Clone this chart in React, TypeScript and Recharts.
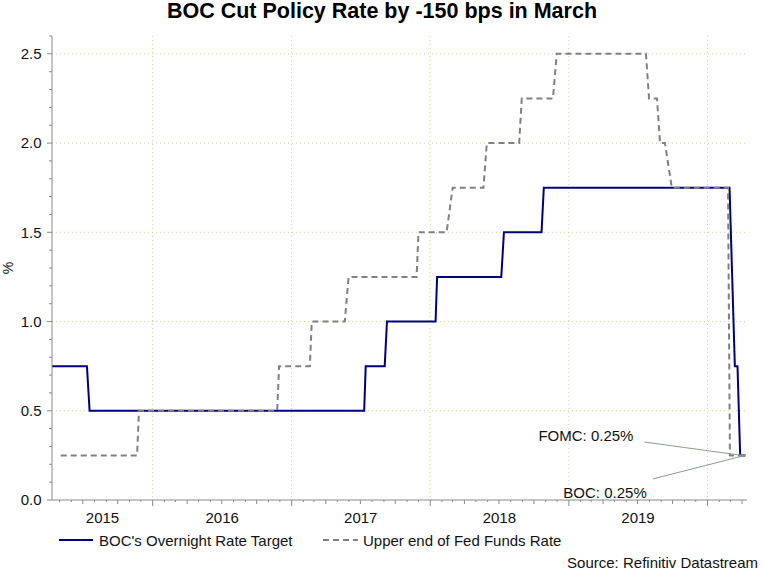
import React from 'react';
import {
  LineChart,
  Line,
  XAxis,
  YAxis,
  CartesianGrid,
  ReferenceLine,
  ReferenceDot,
  Legend,
} from 'recharts';

// ---------- data ----------
const bocDates = [
  '2015-04-11', '2015-07-12', '2015-07-19', '2017-07-11', '2017-07-15', '2017-09-03', '2017-09-09',
  '2018-01-15', '2018-01-19', '2018-07-07', '2018-07-14', '2018-10-21', '2018-10-27', '2020-02-28',
  '2020-03-06', '2020-03-13', '2020-03-20', '2020-03-27', '2020-04-10',
];
const bocValues = [
  0.75, 0.75, 0.5, 0.5, 0.75, 0.75, 1.0, 1.0, 1.25, 1.25, 1.5, 1.5, 1.75, 1.75, 1.25, 0.75, 0.75, 0.25, 0.25,
];

const fedDates = [
  '2015-05-04', '2015-11-21', '2015-11-26', '2016-11-24', '2016-11-29', '2017-02-18', '2017-02-23',
  '2017-05-21', '2017-05-31', '2017-11-26', '2017-12-01', '2018-02-13', '2018-03-01', '2018-05-21',
  '2018-05-30', '2018-08-23', '2018-08-30', '2018-11-20', '2018-11-30', '2019-07-23', '2019-07-31',
  '2019-08-21', '2019-08-29', '2019-09-11', '2019-09-29', '2020-02-24', '2020-02-29', '2020-04-10',
];
const fedValues = [
  0.25, 0.25, 0.5, 0.5, 0.75, 0.75, 1.0, 1.0, 1.25, 1.25, 1.5, 1.5, 1.75, 1.75, 2.0, 2.0, 2.25, 2.25,
  2.5, 2.5, 2.25, 2.25, 2.0, 2.0, 1.75, 1.75, 0.25, 0.25,
];

const seriesNames = ["BOC's Overnight Rate Target", 'Upper end of Fed Funds Rate'];

const xDomainDates = ['2015-04-11', '2020-04-14'];
const yearGridDates = ['2016-01-01', '2017-01-01', '2018-01-01', '2019-01-01', '2020-01-01'];
const yearLabelDates = ['2015-08-22', '2016-07-02', '2017-07-02', '2018-07-02', '2019-07-02'];
const yearLabels = ['2015', '2016', '2017', '2018', '2019'];

const yMajorTicks = [0, 0.5, 1.0, 1.5, 2.0, 2.5];
const yMax = 2.6;

const annotationTexts = ['FOMC: 0.25%', 'BOC: 0.25%'];
const annotationDates = ['2019-06-20', '2019-07-25'];
const annotationValues = [0.33, 0.011];
const leaderStartDates = ['2019-07-19', '2019-08-10'];
const leaderStartValues = [0.325, 0.118];
const leaderEndDates = ['2020-03-31', '2020-04-09'];
const leaderEndValues = [0.25, 0.25];

const title = 'BOC Cut Policy Rate by -150 bps in March';
const source = 'Source: Refinitiv Datastream';

// ---------- helpers ----------
const ts = (s: string) => {
  const [y, m, d] = s.split('-').map(Number);
  return Date.UTC(y, m - 1, d);
};

const bocData = bocDates.map((d, i) => ({ t: ts(d), v: bocValues[i] }));
const fedData = fedDates.map((d, i) => ({ t: ts(d), v: fedValues[i] }));

const monthTicks: number[] = [];
for (let y = 2015; y <= 2020; y++) {
  for (let m = 0; m < 12; m++) {
    const t = Date.UTC(y, m, 1);
    if (t >= ts(xDomainDates[0]) && t <= ts(xDomainDates[1])) monthTicks.push(t);
  }
}
const labelTicks = yearLabelDates.map(ts);
const xTicks = [...monthTicks, ...labelTicks].sort((a, b) => a - b);

const yTicks: number[] = [];
for (let i = 0; i <= Math.round(yMax * 10); i++) yTicks.push(i / 10);

const FONT = '"Liberation Sans", Arial, Helvetica, sans-serif';
const AXIS = '#8a8a8a';
const BOC_COLOR = '#00007f';
const FED_COLOR = '#808080';

const XTick = (props: any) => {
  const { x, y, payload } = props;
  const t = payload.value;
  const li = labelTicks.indexOf(t);
  if (li >= 0) {
    return (
      <text x={x} y={y + 22.5} textAnchor="middle" fontSize={15} fontFamily={FONT} fill="#111">
        {yearLabels[li]}
      </text>
    );
  }
  const m = new Date(t).getUTCMonth();
  const len = m === 0 ? 6 : m % 3 === 0 ? 4 : 2;
  return <line x1={x} x2={x} y1={y} y2={y + len} stroke={AXIS} strokeWidth={1} />;
};

const YTick = (props: any) => {
  const { x, y, payload } = props;
  const v = payload.value as number;
  const major = yMajorTicks.some((m) => Math.abs(m - v) < 1e-6);
  return (
    <g>
      <line x1={x - (major ? 5 : 3)} x2={x} y1={y} y2={y} stroke={AXIS} strokeWidth={1} />
      {major && (
        <text x={x - 10.5} y={y + 5.4} textAnchor="end" fontSize={15} fontFamily={FONT} fill="#111">
          {v.toFixed(1)}
        </text>
      )}
    </g>
  );
};

const legendItemStyle: React.CSSProperties = {
  position: 'absolute', top: 0, display: 'flex', alignItems: 'center', whiteSpace: 'nowrap',
};

const LegendContent = () => (
  <div style={{ position: 'relative', height: 20, fontFamily: FONT, fontSize: 15, color: '#111', lineHeight: '20px' }}>
    <div style={{ ...legendItemStyle, left: 59 }}>
      <svg width={34} height={20} style={{ marginRight: 6 }}>
        <line x1={0} x2={34} y1={9} y2={9} stroke={BOC_COLOR} strokeWidth={2} />
      </svg>
      <span>{seriesNames[0]}</span>
    </div>
    <div style={{ ...legendItemStyle, left: 323 }}>
      <svg width={35} height={20} style={{ marginRight: 5 }}>
        <line x1={0} x2={35} y1={9} y2={9} stroke={FED_COLOR} strokeWidth={2} strokeDasharray="6 4" />
      </svg>
      <span>{seriesNames[1]}</span>
    </div>
  </div>
);

const makeTextShape = (text: string) => (p: any) => (
  <text x={p.cx} y={p.cy} textAnchor="end" fontSize={15} fontFamily={FONT} fill="#111">
    {text}
  </text>
);

export default function App() {
  return (
    <div style={{ position: 'absolute', left: 0, top: 0, width: 764, height: 572, background: '#fff', fontFamily: FONT }}>
      <div
        style={{
          position: 'absolute', left: 0, top: 0, width: 764, textAlign: 'center',
          fontSize: 21.5, fontWeight: 'bold', lineHeight: '22px', color: '#000',
        }}
      >
        {title}
      </div>
      <LineChart width={764} height={572} margin={{ top: 36, right: 17, left: 0, bottom: 42 }}>
        <CartesianGrid
          verticalValues={yearGridDates.map(ts)}
          horizontalValues={yMajorTicks.slice(1)}
          stroke="#c9d2a0"
          strokeDasharray="1 3"
        />
        <XAxis
          dataKey="t"
          type="number"
          scale="linear"
          domain={[ts(xDomainDates[0]), ts(xDomainDates[1])]}
          allowDataOverflow
          ticks={xTicks}
          interval={0}
          tick={<XTick />}
          tickLine={false}
          tickSize={0}
          tickMargin={0}
          height={30}
          axisLine={{ stroke: AXIS }}
        />
        <YAxis
          type="number"
          domain={[0, yMax]}
          allowDataOverflow
          ticks={yTicks}
          interval={0}
          tick={<YTick />}
          tickLine={false}
          tickSize={0}
          tickMargin={0}
          width={52}
          axisLine={{ stroke: AXIS }}
          label={{
            content: (p: any) => {
              const vb = p.viewBox;
              const cx = vb.x + 8;
              const cy = vb.y + vb.height / 2;
              return (
                <text x={cx} y={cy} transform={`rotate(-90 ${cx} ${cy})`} textAnchor="middle" dominantBaseline="central" fontSize={14} fontFamily={FONT} fill="#111">
                  %
                </text>
              );
            },
          }}
        />
        <Legend
          layout="horizontal"
          verticalAlign="middle"
          align="center"
          content={<LegendContent />}
          wrapperStyle={{ position: 'absolute', left: 0, top: 531, width: 764, height: 20 }}
        />
        <Line
          data={bocData}
          dataKey="v"
          name={seriesNames[0]}
          type="linear"
          stroke={BOC_COLOR}
          strokeWidth={2}
          dot={false}
          activeDot={false}
          isAnimationActive={false}
        />
        <Line
          data={fedData}
          dataKey="v"
          name={seriesNames[1]}
          type="linear"
          stroke={FED_COLOR}
          strokeWidth={2}
          strokeDasharray="6 4"
          dot={false}
          activeDot={false}
          isAnimationActive={false}
        />
        {annotationTexts.map((txt, i) => (
          <ReferenceLine
            key={`l${i}`}
            segment={[
              { x: ts(leaderStartDates[i]), y: leaderStartValues[i] },
              { x: ts(leaderEndDates[i]), y: leaderEndValues[i] },
            ]}
            stroke="#8d9c8d"
            strokeWidth={1}
            ifOverflow="visible"
          />
        ))}
        {annotationTexts.map((txt, i) => (
          <ReferenceDot
            key={`t${i}`}
            x={ts(annotationDates[i])}
            y={annotationValues[i]}
            r={0}
            ifOverflow="visible"
            shape={makeTextShape(txt)}
          />
        ))}
      </LineChart>
      <div
        style={{
          position: 'absolute', right: 6, top: 553, fontSize: 15, lineHeight: '20px', color: '#111',
          whiteSpace: 'nowrap',
        }}
      >
        {source}
      </div>
    </div>
  );
}
